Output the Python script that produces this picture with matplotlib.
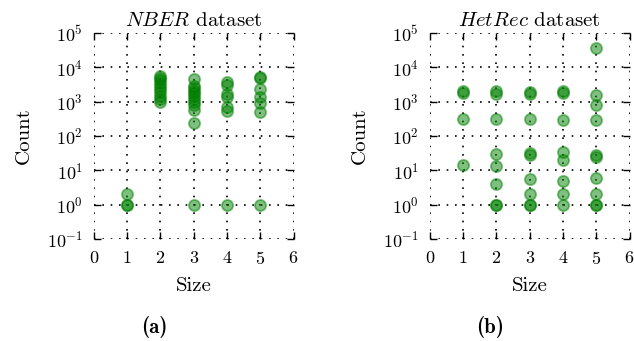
import matplotlib
matplotlib.use("Agg")
from matplotlib import pyplot as plt

plt.rcParams['font.family'] = 'cmr10'
plt.rcParams['mathtext.fontset'] = 'cm'
plt.rcParams['axes.formatter.use_mathtext'] = True
plt.rcParams['axes.unicode_minus'] = False

# NBER dataset: size -> counts
nber_size = [1, 1, 1,
             2, 2, 2, 2, 2, 2, 2, 2, 2, 2,
             3, 3, 3, 3, 3, 3, 3, 3, 3, 3, 3, 3,
             4, 4, 4, 4, 4, 4, 4,
             5, 5, 5, 5, 5, 5, 5]
nber_count = [1, 1, 2,
              5800, 5000, 4200, 3500, 2800, 2300, 1900, 1500, 1200, 950,
              4700, 2900, 2500, 2100, 1800, 1500, 1200, 1000, 800, 570, 240, 1,
              3800, 3000, 1700, 1400, 700, 550, 1,
              5100, 4900, 2400, 1400, 900, 510, 1]

# HetRec dataset: size -> counts
het_size = [1, 1, 1, 1,
            2, 2, 2, 2, 2, 2, 2, 2,
            3, 3, 3, 3, 3, 3, 3, 3, 3,
            4, 4, 4, 4, 4, 4, 4, 4,
            5, 5, 5, 5, 5, 5, 5, 5, 5, 5]
het_count = [1800, 2000, 320, 14.6,
             1700, 2000, 320, 30, 13.6, 4, 1, 1,
             1700, 1900, 320, 28, 32, 5.7, 2, 1, 1,
             1800, 2100, 300, 34, 19.5, 4.8, 2, 1,
             36000, 1580, 780, 290, 25, 28, 6, 2, 1, 1]

panels = [("NBER", nber_size, nber_count, "(a)"),
          ("HetRec", het_size, het_count, "(b)")]
lefts = [0.148, 0.678]
tag_x = [0.243, 0.773]

fig = plt.figure(figsize=(6.34, 3.41), dpi=100)
for (name, xs, ys, tag), left, tx in zip(panels, lefts, tag_x):
    ax = fig.add_axes([left, 0.299, 0.315, 0.604])
    ax.plot(xs, ys, 'o', color='green', alpha=0.5, markersize=8,
            markeredgewidth=1.3)
    ax.set_yscale('log')
    ax.set_xlim(0, 6)
    ax.set_ylim(1e-1, 1e5)
    ax.set_xticks(range(7))
    ax.set_yticks([10.0**k for k in range(-1, 6)])
    ax.minorticks_off()
    for s in ax.spines.values():
        s.set_visible(False)
    ax.tick_params(direction='in', length=5, width=1, top=True, right=True,
                   labelsize=13, pad=8)
    ax.grid(True, color='black', linestyle=(0, (1, 4)), linewidth=1.2)
    ax.set_title(r"$\mathit{%s}$ dataset" % name, fontsize=15, pad=5)
    ax.set_xlabel("Size", fontsize=15, labelpad=7)
    ax.set_ylabel("Count", fontsize=15, labelpad=10)
    fig.text(tx, 0.041, tag, ha='center', va='center', fontsize=15,
             family='cmb10')

fig.savefig("out.png", dpi=100)
